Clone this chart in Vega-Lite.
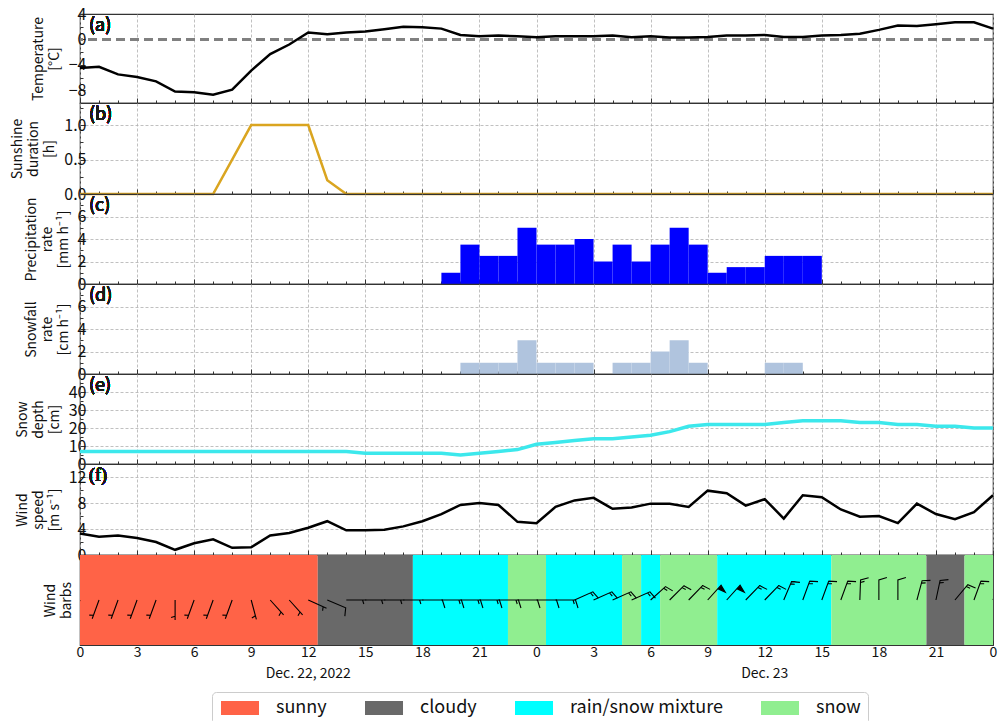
{
  "$schema": "https://vega.github.io/schema/vega-lite/v6.json",
  "padding": {"left": 10, "right": 5, "top": 5, "bottom": 5},
  "spacing": 0,
  "bounds": "flush",
  "config": {
    "font": "Noto Sans CJK JP",
    "view": {"stroke": "#333333", "strokeWidth": 1.2},
    "axis": {
      "labelFontSize": 16, "labelColor": "#111111", "titleFontSize": 14, "titleFontWeight": "normal",
      "titleColor": "#111111", "gridColor": "#b0b0b0", "gridDash": [3, 2], "gridWidth": 0.8,
      "domain": false, "tickColor": "#333333", "zindex": 1, "labelOverlap": false, "labelFlush": false,
      "titleLineHeight": 16, "titlePadding": 7, "labelPadding": -1
    }
  },
  "datasets": {
    "hourly": [
      {"h": 0, "temp": -4.5, "sun": 0, "wind": 3.3, "depth": 7},
      {"h": 1, "temp": -4.3, "sun": 0, "wind": 2.8, "depth": 7},
      {"h": 2, "temp": -5.5, "sun": 0, "wind": 3.0, "depth": 7},
      {"h": 3, "temp": -5.9, "sun": 0, "wind": 2.6, "depth": 7},
      {"h": 4, "temp": -6.6, "sun": 0, "wind": 2.0, "depth": 7},
      {"h": 5, "temp": -8.2, "sun": 0, "wind": 0.8, "depth": 7},
      {"h": 6, "temp": -8.3, "sun": 0, "wind": 1.8, "depth": 7},
      {"h": 7, "temp": -8.7, "sun": 0, "wind": 2.4, "depth": 7},
      {"h": 8, "temp": -7.9, "sun": 0.5, "wind": 1.1, "depth": 7},
      {"h": 9, "temp": -4.9, "sun": 1.0, "wind": 1.2, "depth": 7},
      {"h": 10, "temp": -2.3, "sun": 1.0, "wind": 3.0, "depth": 7},
      {"h": 11, "temp": -0.8, "sun": 1.0, "wind": 3.4, "depth": 7},
      {"h": 12, "temp": 1.1, "sun": 1.0, "wind": 4.2, "depth": 7},
      {"h": 13, "temp": 0.8, "sun": 0.2, "wind": 5.2, "depth": 7},
      {"h": 14, "temp": 1.1, "sun": 0, "wind": 3.8, "depth": 7},
      {"h": 15, "temp": 1.25, "sun": 0, "wind": 3.8, "depth": 6},
      {"h": 16, "temp": 1.6, "sun": 0, "wind": 3.9, "depth": 6},
      {"h": 17, "temp": 2.0, "sun": 0, "wind": 4.4, "depth": 6},
      {"h": 18, "temp": 1.9, "sun": 0, "wind": 5.2, "depth": 6},
      {"h": 19, "temp": 1.7, "sun": 0, "wind": 6.3, "depth": 6},
      {"h": 20, "temp": 0.7, "sun": 0, "wind": 7.7, "depth": 5},
      {"h": 21, "temp": 0.5, "sun": 0, "wind": 8.0, "depth": 6},
      {"h": 22, "temp": 0.6, "sun": 0, "wind": 7.7, "depth": 7},
      {"h": 23, "temp": 0.5, "sun": 0, "wind": 5.1, "depth": 8},
      {"h": 24, "temp": 0.36, "sun": 0, "wind": 4.9, "depth": 11},
      {"h": 25, "temp": 0.5, "sun": 0, "wind": 7.4, "depth": 12},
      {"h": 26, "temp": 0.5, "sun": 0, "wind": 8.4, "depth": 13},
      {"h": 27, "temp": 0.5, "sun": 0, "wind": 8.8, "depth": 14},
      {"h": 28, "temp": 0.6, "sun": 0, "wind": 7.1, "depth": 14},
      {"h": 29, "temp": 0.36, "sun": 0, "wind": 7.3, "depth": 15},
      {"h": 30, "temp": 0.5, "sun": 0, "wind": 7.9, "depth": 16},
      {"h": 31, "temp": 0.3, "sun": 0, "wind": 7.9, "depth": 18},
      {"h": 32, "temp": 0.3, "sun": 0, "wind": 7.4, "depth": 21},
      {"h": 33, "temp": 0.4, "sun": 0, "wind": 9.9, "depth": 22},
      {"h": 34, "temp": 0.6, "sun": 0, "wind": 9.5, "depth": 22},
      {"h": 35, "temp": 0.6, "sun": 0, "wind": 7.6, "depth": 22},
      {"h": 36, "temp": 0.7, "sun": 0, "wind": 8.6, "depth": 22},
      {"h": 37, "temp": 0.4, "sun": 0, "wind": 5.6, "depth": 23},
      {"h": 38, "temp": 0.4, "sun": 0, "wind": 9.2, "depth": 24},
      {"h": 39, "temp": 0.6, "sun": 0, "wind": 8.9, "depth": 24},
      {"h": 40, "temp": 0.7, "sun": 0, "wind": 7.0, "depth": 24},
      {"h": 41, "temp": 0.9, "sun": 0, "wind": 5.9, "depth": 23},
      {"h": 42, "temp": 1.5, "sun": 0, "wind": 6.0, "depth": 23},
      {"h": 43, "temp": 2.2, "sun": 0, "wind": 4.9, "depth": 22},
      {"h": 44, "temp": 2.1, "sun": 0, "wind": 7.9, "depth": 22},
      {"h": 45, "temp": 2.4, "sun": 0, "wind": 6.3, "depth": 21},
      {"h": 46, "temp": 2.7, "sun": 0, "wind": 5.5, "depth": 21},
      {"h": 47, "temp": 2.7, "sun": 0, "wind": 6.6, "depth": 20},
      {"h": 48, "temp": 1.7, "sun": 0, "wind": 9.2, "depth": 20}
    ],
    "bars": [
      {"h": 19, "h2": 20, "precip": 1.0, "snow": 0},
      {"h": 20, "h2": 21, "precip": 3.5, "snow": 1},
      {"h": 21, "h2": 22, "precip": 2.5, "snow": 1},
      {"h": 22, "h2": 23, "precip": 2.5, "snow": 1},
      {"h": 23, "h2": 24, "precip": 5.0, "snow": 3},
      {"h": 24, "h2": 25, "precip": 3.5, "snow": 1},
      {"h": 25, "h2": 26, "precip": 3.5, "snow": 1},
      {"h": 26, "h2": 27, "precip": 4.0, "snow": 1},
      {"h": 27, "h2": 28, "precip": 2.0, "snow": 0},
      {"h": 28, "h2": 29, "precip": 3.5, "snow": 1},
      {"h": 29, "h2": 30, "precip": 2.0, "snow": 1},
      {"h": 30, "h2": 31, "precip": 3.5, "snow": 2},
      {"h": 31, "h2": 32, "precip": 5.0, "snow": 3},
      {"h": 32, "h2": 33, "precip": 3.5, "snow": 1},
      {"h": 33, "h2": 34, "precip": 1.0, "snow": 0},
      {"h": 34, "h2": 35, "precip": 1.5, "snow": 0},
      {"h": 35, "h2": 36, "precip": 1.5, "snow": 0},
      {"h": 36, "h2": 37, "precip": 2.5, "snow": 1},
      {"h": 37, "h2": 38, "precip": 2.5, "snow": 1},
      {"h": 38, "h2": 39, "precip": 2.5, "snow": 0}
    ],
    "weather": [
      {"h": 0, "h2": 12.5, "cat": "sunny"},
      {"h": 12.5, "h2": 17.5, "cat": "cloudy"},
      {"h": 17.5, "h2": 22.5, "cat": "rain/snow mixture"},
      {"h": 22.5, "h2": 24.5, "cat": "snow"},
      {"h": 24.5, "h2": 28.5, "cat": "rain/snow mixture"},
      {"h": 28.5, "h2": 29.5, "cat": "snow"},
      {"h": 29.5, "h2": 30.5, "cat": "rain/snow mixture"},
      {"h": 30.5, "h2": 33.5, "cat": "snow"},
      {"h": 33.5, "h2": 39.5, "cat": "rain/snow mixture"},
      {"h": 39.5, "h2": 44.5, "cat": "snow"},
      {"h": 44.5, "h2": 46.5, "cat": "cloudy"},
      {"h": 46.5, "h2": 48, "cat": "snow"}
    ],
    "dates": [
      {"h": 12, "label": "Dec. 22, 2022"},
      {"h": 36, "label": "Dec. 23"}
    ],
    "barbs": [
      {"h": 0, "dir": 200, "kind": "half"},
      {"h": 1, "dir": 200, "kind": "half"},
      {"h": 2, "dir": 200, "kind": "half"},
      {"h": 3, "dir": 200, "kind": "half"},
      {"h": 4, "dir": 200, "kind": "half"},
      {"h": 5, "dir": 180, "kind": "half"},
      {"h": 6, "dir": 200, "kind": "half"},
      {"h": 7, "dir": 200, "kind": "half"},
      {"h": 8, "dir": 200, "kind": "half"},
      {"h": 9, "dir": 165, "kind": "half"},
      {"h": 10, "dir": 138, "kind": "half"},
      {"h": 11, "dir": 138, "kind": "half"},
      {"h": 12, "dir": 114, "kind": "half"},
      {"h": 13, "dir": 113, "kind": "full"},
      {"h": 14, "dir": 90, "kind": "half"},
      {"h": 15, "dir": 90, "kind": "half"},
      {"h": 16, "dir": 90, "kind": "half"},
      {"h": 17, "dir": 90, "kind": "half"},
      {"h": 18, "dir": 90, "kind": "full"},
      {"h": 19, "dir": 90, "kind": "fullhalf"},
      {"h": 20, "dir": 90, "kind": "fullhalf"},
      {"h": 21, "dir": 90, "kind": "fullhalf"},
      {"h": 22, "dir": 90, "kind": "fullhalf"},
      {"h": 23, "dir": 90, "kind": "full"},
      {"h": 24, "dir": 90, "kind": "full"},
      {"h": 25, "dir": 90, "kind": "fullhalf"},
      {"h": 26, "dir": 66, "kind": "fullhalf"},
      {"h": 27, "dir": 66, "kind": "fullhalf"},
      {"h": 28, "dir": 66, "kind": "fullhalf"},
      {"h": 29, "dir": 66, "kind": "fullhalf"},
      {"h": 30, "dir": 48, "kind": "fullhalf"},
      {"h": 31, "dir": 45, "kind": "fullhalf"},
      {"h": 32, "dir": 44, "kind": "fullhalf"},
      {"h": 33, "dir": 42, "kind": "flag"},
      {"h": 34, "dir": 42, "kind": "flag"},
      {"h": 35, "dir": 44, "kind": "fullhalf"},
      {"h": 36, "dir": 44, "kind": "fullhalf"},
      {"h": 37, "dir": 23, "kind": "fullhalf"},
      {"h": 38, "dir": 20, "kind": "fullhalf"},
      {"h": 39, "dir": 20, "kind": "fullhalf"},
      {"h": 40, "dir": 20, "kind": "fullhalf"},
      {"h": 41, "dir": 2, "kind": "fullhalf"},
      {"h": 42, "dir": 0, "kind": "full"},
      {"h": 43, "dir": 0, "kind": "full"},
      {"h": 44, "dir": 15, "kind": "fullhalf"},
      {"h": 45, "dir": 12, "kind": "fullhalf"},
      {"h": 46, "dir": 40, "kind": "fullhalf"},
      {"h": 47, "dir": 20, "kind": "fullhalf"},
      {"h": 48, "dir": 20, "kind": "fullhalf"}
    ]
  },
  "resolve": {"scale": {"x": "shared", "y": "independent"}, "axis": {"x": "independent", "y": "independent"}},
  "vconcat": [
    {
      "width": 913, "height": 89,
      "data": {"name": "hourly"},
      "layer": [
        {"mark": {"type": "rule", "color": "#808080", "strokeWidth": 2.5, "strokeDash": [9, 5]}, "encoding": {"y": {"datum": 0}}},
        {"mark": {"type": "line", "color": "black", "strokeWidth": 2.5},
         "encoding": {
           "x": {"field": "h", "type": "quantitative", "scale": {"domain": [0, 48], "nice": false, "zero": false},
                 "axis": {"title": null, "labels": false, "labelOverlap": false, "tickCount": 100, "values": [0,1,2,3,4,5,6,7,8,9,10,11,12,13,14,15,16,17,18,19,20,21,22,23,24,25,26,27,28,29,30,31,32,33,34,35,36,37,38,39,40,41,42,43,44,45,46,47,48],
                          "tickSize": {"condition": {"test": "datum.value % 3 === 0", "value": -5}, "value": -3},
                          "gridOpacity": {"condition": {"test": "datum.value % 3 === 0", "value": 1}, "value": 0}}},
           "y": {"field": "temp", "type": "quantitative", "scale": {"domain": [-10, 4], "nice": false, "zero": false},
                 "axis": {"title": ["Temperature", "[°C]"], "labelOverlap": false, "tickCount": 100, "values": [-10, -8, -6, -4, -2, 0, 2, 4],
                          "labelExpr": "datum.value % 4 === 0 ? format(datum.value, 'd') : ''",
                          "tickSize": {"condition": {"test": "datum.value % 4 === 0", "value": -5}, "value": -3},
                          "gridOpacity": {"condition": {"test": "datum.value % 4 === 0", "value": 1}, "value": 0}}}
         }},
        {"mark": {"type": "text", "align": "left", "baseline": "top", "dx": 9, "dy": 3, "fontSize": 18, "color": "#1a1a1a"},
         "encoding": {"x": {"datum": 0}, "y": {"datum": 4}, "text": {"value": "(a)"}}}
      ]
    },
    {
      "width": 913, "height": 91,
      "data": {"name": "hourly"},
      "layer": [
        {"mark": {"type": "line", "color": "#DAA520", "strokeWidth": 2.5},
         "encoding": {
           "x": {"field": "h", "type": "quantitative", "scale": {"domain": [0, 48], "nice": false, "zero": false},
                 "axis": {"title": null, "labels": false, "labelOverlap": false, "tickCount": 100, "values": [0,1,2,3,4,5,6,7,8,9,10,11,12,13,14,15,16,17,18,19,20,21,22,23,24,25,26,27,28,29,30,31,32,33,34,35,36,37,38,39,40,41,42,43,44,45,46,47,48],
                          "tickSize": {"condition": {"test": "datum.value % 3 === 0", "value": -5}, "value": -3},
                          "gridOpacity": {"condition": {"test": "datum.value % 3 === 0", "value": 1}, "value": 0}}},
           "y": {"field": "sun", "type": "quantitative", "scale": {"domain": [0, 1.32], "nice": false},
                 "axis": {"title": ["Sunshine", "duration", "[h]"], "labelOverlap": false, "tickCount": 100, "values": [0, 0.25, 0.5, 0.75, 1, 1.25],
                          "labelExpr": "(datum.value * 2) % 1 === 0 ? format(datum.value, '.1f') : ''",
                          "tickSize": {"condition": {"test": "(datum.value * 2) % 1 === 0", "value": -5}, "value": -3},
                          "gridOpacity": {"condition": {"test": "(datum.value * 2) % 1 === 0", "value": 1}, "value": 0}}}
         }},
        {"mark": {"type": "text", "align": "left", "baseline": "top", "dx": 9, "dy": 3, "fontSize": 18, "color": "#1a1a1a"},
         "encoding": {"x": {"datum": 0}, "y": {"datum": 1.32}, "text": {"value": "(b)"}}}
      ]
    },
    {
      "width": 913, "height": 90,
      "data": {"name": "bars"},
      "layer": [
        {"mark": {"type": "rect", "color": "#0000ff"},
         "encoding": {
           "x": {"field": "h", "type": "quantitative", "scale": {"domain": [0, 48], "nice": false, "zero": false},
                 "axis": {"title": null, "labels": false, "labelOverlap": false, "tickCount": 100, "values": [0,1,2,3,4,5,6,7,8,9,10,11,12,13,14,15,16,17,18,19,20,21,22,23,24,25,26,27,28,29,30,31,32,33,34,35,36,37,38,39,40,41,42,43,44,45,46,47,48],
                          "tickSize": {"condition": {"test": "datum.value % 3 === 0", "value": -5}, "value": -3},
                          "gridOpacity": {"condition": {"test": "datum.value % 3 === 0", "value": 1}, "value": 0}}},
           "x2": {"field": "h2"},
           "y": {"field": "precip", "type": "quantitative", "scale": {"domain": [0, 8], "nice": false},
                 "axis": {"title": ["Precipitation", "rate", "[mm h⁻¹]"], "labelOverlap": false, "tickCount": 100, "values": [0, 1, 2, 3, 4, 5, 6, 7],
                          "labelExpr": "datum.value % 2 === 0 ? format(datum.value, 'd') : ''",
                          "tickSize": {"condition": {"test": "datum.value % 2 === 0", "value": -5}, "value": -3},
                          "gridOpacity": {"condition": {"test": "datum.value % 2 === 0", "value": 1}, "value": 0}}},
           "y2": {"datum": 0}
         }},
        {"mark": {"type": "text", "align": "left", "baseline": "top", "dx": 9, "dy": 3, "fontSize": 18, "color": "#1a1a1a"},
         "encoding": {"x": {"datum": 0}, "y": {"datum": 8}, "text": {"value": "(c)"}}}
      ]
    },
    {
      "width": 913, "height": 90,
      "data": {"name": "bars"},
      "layer": [
        {"mark": {"type": "rect", "color": "#B0C4DE"},
         "encoding": {
           "x": {"field": "h", "type": "quantitative", "scale": {"domain": [0, 48], "nice": false, "zero": false},
                 "axis": {"title": null, "labels": false, "labelOverlap": false, "tickCount": 100, "values": [0,1,2,3,4,5,6,7,8,9,10,11,12,13,14,15,16,17,18,19,20,21,22,23,24,25,26,27,28,29,30,31,32,33,34,35,36,37,38,39,40,41,42,43,44,45,46,47,48],
                          "tickSize": {"condition": {"test": "datum.value % 3 === 0", "value": -5}, "value": -3},
                          "gridOpacity": {"condition": {"test": "datum.value % 3 === 0", "value": 1}, "value": 0}}},
           "x2": {"field": "h2"},
           "y": {"field": "snow", "type": "quantitative", "scale": {"domain": [0, 8], "nice": false},
                 "axis": {"title": ["Snowfall", "rate", "[cm h⁻¹]"], "labelOverlap": false, "tickCount": 100, "values": [0, 1, 2, 3, 4, 5, 6, 7],
                          "labelExpr": "datum.value % 2 === 0 ? format(datum.value, 'd') : ''",
                          "tickSize": {"condition": {"test": "datum.value % 2 === 0", "value": -5}, "value": -3},
                          "gridOpacity": {"condition": {"test": "datum.value % 2 === 0", "value": 1}, "value": 0}}},
           "y2": {"datum": 0}
         }},
        {"mark": {"type": "text", "align": "left", "baseline": "top", "dx": 9, "dy": 3, "fontSize": 18, "color": "#1a1a1a"},
         "encoding": {"x": {"datum": 0}, "y": {"datum": 8}, "text": {"value": "(d)"}}}
      ]
    },
    {
      "width": 913, "height": 90,
      "data": {"name": "hourly"},
      "layer": [
        {"mark": {"type": "line", "color": "#3ce8ec", "strokeWidth": 3.5},
         "encoding": {
           "x": {"field": "h", "type": "quantitative", "scale": {"domain": [0, 48], "nice": false, "zero": false},
                 "axis": {"title": null, "labels": false, "labelOverlap": false, "tickCount": 100, "values": [0,1,2,3,4,5,6,7,8,9,10,11,12,13,14,15,16,17,18,19,20,21,22,23,24,25,26,27,28,29,30,31,32,33,34,35,36,37,38,39,40,41,42,43,44,45,46,47,48],
                          "tickSize": {"condition": {"test": "datum.value % 3 === 0", "value": -5}, "value": -3},
                          "gridOpacity": {"condition": {"test": "datum.value % 3 === 0", "value": 1}, "value": 0}}},
           "y": {"field": "depth", "type": "quantitative", "scale": {"domain": [0, 50], "nice": false},
                 "axis": {"title": ["Snow", "depth", "[cm]"], "labelOverlap": false, "tickCount": 100, "values": [0, 5, 10, 15, 20, 25, 30, 35, 40, 45],
                          "labelExpr": "datum.value % 10 === 0 ? format(datum.value, 'd') : ''",
                          "tickSize": {"condition": {"test": "datum.value % 10 === 0", "value": -5}, "value": -3},
                          "gridOpacity": {"condition": {"test": "datum.value % 10 === 0", "value": 1}, "value": 0}}}
         }},
        {"mark": {"type": "text", "align": "left", "baseline": "top", "dx": 9, "dy": 3, "fontSize": 18, "color": "#1a1a1a"},
         "encoding": {"x": {"datum": 0}, "y": {"datum": 50}, "text": {"value": "(e)"}}}
      ]
    },
    {
      "width": 913, "height": 91,
      "data": {"name": "hourly"},
      "layer": [
        {"mark": {"type": "line", "color": "black", "strokeWidth": 2.5},
         "encoding": {
           "x": {"field": "h", "type": "quantitative", "scale": {"domain": [0, 48], "nice": false, "zero": false},
                 "axis": {"title": null, "labels": false, "labelOverlap": false, "tickCount": 100, "values": [0,1,2,3,4,5,6,7,8,9,10,11,12,13,14,15,16,17,18,19,20,21,22,23,24,25,26,27,28,29,30,31,32,33,34,35,36,37,38,39,40,41,42,43,44,45,46,47,48],
                          "tickSize": {"condition": {"test": "datum.value % 3 === 0", "value": -5}, "value": -3},
                          "gridOpacity": {"condition": {"test": "datum.value % 3 === 0", "value": 1}, "value": 0}}},
           "y": {"field": "wind", "type": "quantitative", "scale": {"domain": [0, 14], "nice": false},
                 "axis": {"title": ["Wind", "speed", "[m s⁻¹]"], "labelOverlap": false, "tickCount": 100, "values": [0, 2, 4, 6, 8, 10, 12],
                          "labelExpr": "datum.value % 4 === 0 ? format(datum.value, 'd') : ''",
                          "tickSize": {"condition": {"test": "datum.value % 4 === 0", "value": -5}, "value": -3},
                          "gridOpacity": {"condition": {"test": "datum.value % 4 === 0", "value": 1}, "value": 0}}}
         }},
        {"mark": {"type": "text", "align": "left", "baseline": "top", "dx": 9, "dy": 3, "fontSize": 18, "font": "Liberation Serif", "color": "#1a1a1a"},
         "encoding": {"x": {"datum": 0}, "y": {"datum": 14}, "text": {"value": "(f)"}}}
      ]
    },
    {
      "width": 913, "height": 90,
      "layer": [
        {"data": {"name": "weather"},
         "mark": {"type": "rect"},
         "encoding": {
           "x": {"field": "h", "type": "quantitative", "scale": {"domain": [0, 48], "nice": false, "zero": false},
                 "axis": {"title": null, "labelOverlap": false, "tickCount": 100, "labelFontSize": 14, "labelPadding": 5, "labelBaseline": "top", "values": [0,1,2,3,4,5,6,7,8,9,10,11,12,13,14,15,16,17,18,19,20,21,22,23,24,25,26,27,28,29,30,31,32,33,34,35,36,37,38,39,40,41,42,43,44,45,46,47,48],
                          "labelExpr": "datum.value % 3 !== 0 ? '' : format(datum.value % 24, 'd')",
                          "gridColor": "#eeeeee",
                          "tickSize": {"condition": {"test": "datum.value % 3 === 0", "value": -5}, "value": -3},
                          "gridOpacity": {"condition": {"test": "datum.value % 3 === 0 && (datum.value <= 15 || datum.value === 45)", "value": 1}, "value": 0}}},
           "x2": {"field": "h2"},
           "color": {"field": "cat", "type": "nominal",
                     "scale": {"domain": ["sunny", "cloudy", "rain/snow mixture", "snow"], "range": ["#FF6347", "#696969", "#00FFFF", "#90EE90"]},
                     "legend": {"orient": "none", "legendX": 132, "legendY": 678, "direction": "horizontal", "columns": 4, "title": null,
                                "symbolType": "M-1,-1H4.43V1H-1Z", "symbolSize": 196, "symbolStrokeWidth": 0, "symbolOpacity": 1,
                                "labelFontSize": 18, "labelOffset": 39, "columnPadding": 36, "padding": 7,
                                "strokeColor": "#cccccc", "cornerRadius": 4, "fillColor": "white", "labelColor": "#111111"}}
         }},
        {"data": {"name": "barbs"},
         "mark": {"type": "point", "filled": true, "fill": "black", "stroke": "black", "strokeWidth": 1.1, "size": 400, "opacity": 1, "clip": true},
         "encoding": {
           "x": {"field": "h", "type": "quantitative"},
           "y": {"datum": 0, "scale": {"domain": [-1, 1]}, "axis": {"title": ["Wind", "barbs"], "labels": false, "ticks": false, "grid": false}},
           "shape": {"field": "kind", "type": "nominal",
                     "scale": {"domain": ["half", "full", "fullhalf", "flag"],
                               "range": ["M0,0L0,-2M0,-1.625L0.4,-1.75", "M0,0L0,-2L0.8,-2.25L0,-2", "M0,0L0,-2L0.8,-2.25L0,-2M0,-1.75L0.4,-1.875", "M0,0L0,-2L0.8,-1.75L0,-1.5"]},
                     "legend": null},
           "angle": {"field": "dir", "type": "quantitative", "scale": null}
         }},
        {"data": {"name": "dates"},
         "mark": {"type": "text", "align": "center", "baseline": "top", "dy": 22, "fontSize": 14, "color": "#111111"},
         "encoding": {"x": {"field": "h", "type": "quantitative"}, "y": {"datum": -1}, "text": {"field": "label"}}},
        {"mark": {"type": "text", "align": "left", "baseline": "top", "dx": 9, "dy": 3, "fontSize": 18, "font": "Liberation Serif", "color": "#1a1a1a"},
         "encoding": {"x": {"datum": 0}, "y": {"datum": 1}, "text": {"value": "(g)"}}}
      ]
    }
  ]
}
